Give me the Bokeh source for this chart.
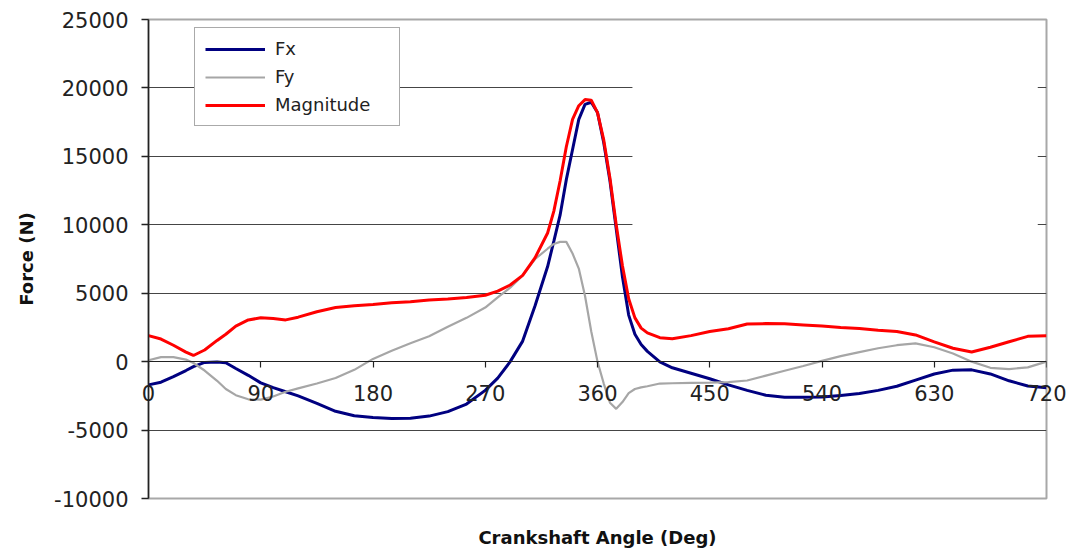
from bokeh.plotting import figure
from bokeh.models import (Range1d, LinearAxis, FixedTicker, BoxAnnotation, Legend,
                          LegendItem, Grid, ColumnDataSource)
from bokeh.embed import file_html
from bokeh.resources import INLINE

# ---------------- data ----------------
angle = [0, 10, 20, 30, 36, 45, 55, 62, 70, 80, 90, 100, 110, 120, 135, 150, 165, 180,
         195, 210, 225, 240, 255, 270, 280, 290, 300, 310, 320, 325, 330, 335, 340, 345,
         350, 355, 360, 365, 370, 375, 380, 385, 390, 395, 400, 410, 420, 435, 450, 465,
         480, 495, 510, 525, 540, 555, 570, 585, 600, 615, 630, 645, 660, 675, 690, 705, 720]

fx = [-1700, -1500, -1100, -650, -360, -60, -30, -80, -500, -1000, -1550, -1900, -2200,
      -2500, -3050, -3630, -3950, -4080, -4150, -4130, -3980, -3650, -3100, -2100, -1200,
      0, 1500, 4100, 6950, 8800, 10700, 13300, 15500, 17700, 18800, 18950, 18200, 16000,
      13200, 9700, 6200, 3400, 2000, 1250, 750, -20, -450, -850, -1250, -1700, -2100,
      -2450, -2600, -2600, -2580, -2480, -2330, -2100, -1800, -1350, -900, -620, -600,
      -900, -1400, -1780, -1900]

fy = [100, 330, 330, 150, -100, -650, -1400, -2000, -2450, -2750, -2780, -2550, -2200,
      -1950, -1600, -1200, -600, 200, 800, 1350, 1850, 2550, 3200, 3950, 4700, 5400, 6300,
      7500, 8250, 8600, 8750, 8750, 7900, 6800, 4800, 2200, 0, -1600, -3000, -3450, -2950,
      -2300, -2000, -1880, -1800, -1600, -1580, -1550, -1530, -1500, -1380, -1020, -665,
      -320, 60, 400, 700, 980, 1200, 1330, 1050, 600, 0, -450, -540, -420, 0]

magnitude = [1900, 1650, 1200, 700, 450, 850, 1550, 2000, 2600, 3050, 3200, 3150, 3050,
             3250, 3650, 3950, 4080, 4180, 4300, 4380, 4500, 4580, 4680, 4850, 5150, 5600,
             6300, 7600, 9400, 11000, 13200, 15700, 17700, 18700, 19150, 19100, 18200,
             16200, 13400, 10000, 7000, 4600, 3200, 2450, 2100, 1750, 1680, 1900, 2200,
             2400, 2750, 2780, 2760, 2680, 2600, 2500, 2420, 2300, 2200, 1950, 1450, 980,
             700, 1050, 1450, 1850, 1900]

series_names = ["Fx", "Fy", "Magnitude"]
x_ticks = [0, 90, 180, 270, 360, 450, 540, 630, 720]
x_tick_labels = ["0", "90", "180", "270", "360", "450", "540", "630", "720"]
y_ticks = [-10000, -5000, 0, 5000, 10000, 15000, 20000, 25000]
y_tick_labels = ["-10000", "-5000", "0", "5000", "10000", "15000", "20000", "25000"]
x_title = "Crankshaft Angle (Deg)"
y_title = "Force (N)"

# ---------------- figure ----------------
FONT = "DejaVu Sans"

p = figure(width=1071, height=550, output_backend="svg", toolbar_location=None,
           x_range=Range1d(0, 720), y_range=Range1d(-10000, 25000),
           x_axis_location=None, y_axis_location=None,
           min_border_left=148, min_border_right=25, min_border_top=19,
           min_border_bottom=52, background_fill_color="white",
           border_fill_color="white")
p.outline_line_color = "#a8a8a8"
p.outline_line_width = 2

# remove default grids
p.center = [r for r in p.center if not isinstance(r, Grid)]

# y axis
yaxis = LinearAxis(ticker=FixedTicker(ticks=y_ticks), axis_label=y_title)
yaxis.major_label_overrides = {t: s for t, s in zip(y_ticks, y_tick_labels)}
yaxis.major_tick_out = 7
yaxis.major_tick_in = 0
yaxis.minor_tick_line_color = None
yaxis.axis_line_color = "#222222"
yaxis.axis_line_width = 1.5
yaxis.major_tick_line_color = "#222222"
yaxis.major_tick_line_width = 1.5
yaxis.major_label_standoff = 13
yaxis.major_label_text_font = FONT
yaxis.major_label_text_font_size = "21px"
yaxis.major_label_text_color = "#222222"
yaxis.axis_label_text_font = FONT
yaxis.axis_label_text_font_style = "bold"
yaxis.axis_label_text_font_size = "18px"
yaxis.axis_label_text_color = "#111111"
yaxis.axis_label_standoff = 14
p.add_layout(yaxis, "left")

# x axis line and ticks crossing at y = 0
xaxis = LinearAxis(ticker=FixedTicker(ticks=x_ticks), fixed_location=0)
xaxis.major_tick_out = 6
xaxis.major_tick_in = 0
xaxis.minor_tick_line_color = None
xaxis.axis_line_color = "#222222"
xaxis.axis_line_width = 1.2
xaxis.major_tick_line_color = "#222222"
xaxis.major_tick_line_width = 1.2
xaxis.major_label_text_color = None
xaxis.major_label_text_font_size = "0px"
p.add_layout(xaxis, "below")

# bottom axis: tick labels pulled up just under the y = 0 line, plus the x title
xlab_axis = LinearAxis(ticker=FixedTicker(ticks=x_ticks), axis_label=x_title)
xlab_axis.major_label_overrides = {t: s for t, s in zip(x_ticks, x_tick_labels)}
xlab_axis.axis_line_color = None
xlab_axis.major_tick_line_color = None
xlab_axis.minor_tick_line_color = None
xlab_axis.major_tick_out = 0
xlab_axis.major_tick_in = 0
xlab_axis.major_label_standoff = -114
xlab_axis.major_label_text_font = FONT
xlab_axis.major_label_text_font_size = "21px"
xlab_axis.major_label_text_color = "#222222"
xlab_axis.axis_label_standoff = 123
xlab_axis.axis_label_text_font = FONT
xlab_axis.axis_label_text_font_style = "bold"
xlab_axis.axis_label_text_font_size = "18px"
xlab_axis.axis_label_text_color = "#111111"
p.add_layout(xlab_axis, "below")

# horizontal grid
p.add_layout(Grid(dimension=1, ticker=FixedTicker(ticks=y_ticks),
                  grid_line_color="#454545", grid_line_width=1.2))

# white patch seen in the upper right of the reference image
p.add_layout(BoxAnnotation(left=388, right=713, bottom=8800, top=24750,
                           fill_color="white", fill_alpha=1.0, line_color=None))

src = ColumnDataSource(dict(angle=angle, fx=fx, fy=fy, magnitude=magnitude))
r_fx = p.line("angle", "fx", source=src, line_color="#000080", line_width=3)
r_fy = p.line("angle", "fy", source=src, line_color="#a6a6a6", line_width=2.2)
r_mag = p.line("angle", "magnitude", source=src, line_color="#ff0000", line_width=3)

legend = Legend(items=[LegendItem(label=series_names[0], renderers=[r_fx]),
                       LegendItem(label=series_names[1], renderers=[r_fy]),
                       LegendItem(label=series_names[2], renderers=[r_mag])],
                location=(46, 372))
legend.padding = 10
legend.spacing = 7
legend.margin = 0
legend.glyph_width = 60
legend.glyph_height = 20
legend.label_height = 20
legend.label_width = 114
legend.label_standoff = 10
legend.label_text_font = FONT
legend.label_text_font_size = "18px"
legend.label_text_color = "#222222"
legend.border_line_color = "#555555"
legend.border_line_width = 1.5
legend.background_fill_color = "white"
legend.background_fill_alpha = 1.0
p.add_layout(legend)

open("out.html", "w").write(file_html(p, INLINE))
